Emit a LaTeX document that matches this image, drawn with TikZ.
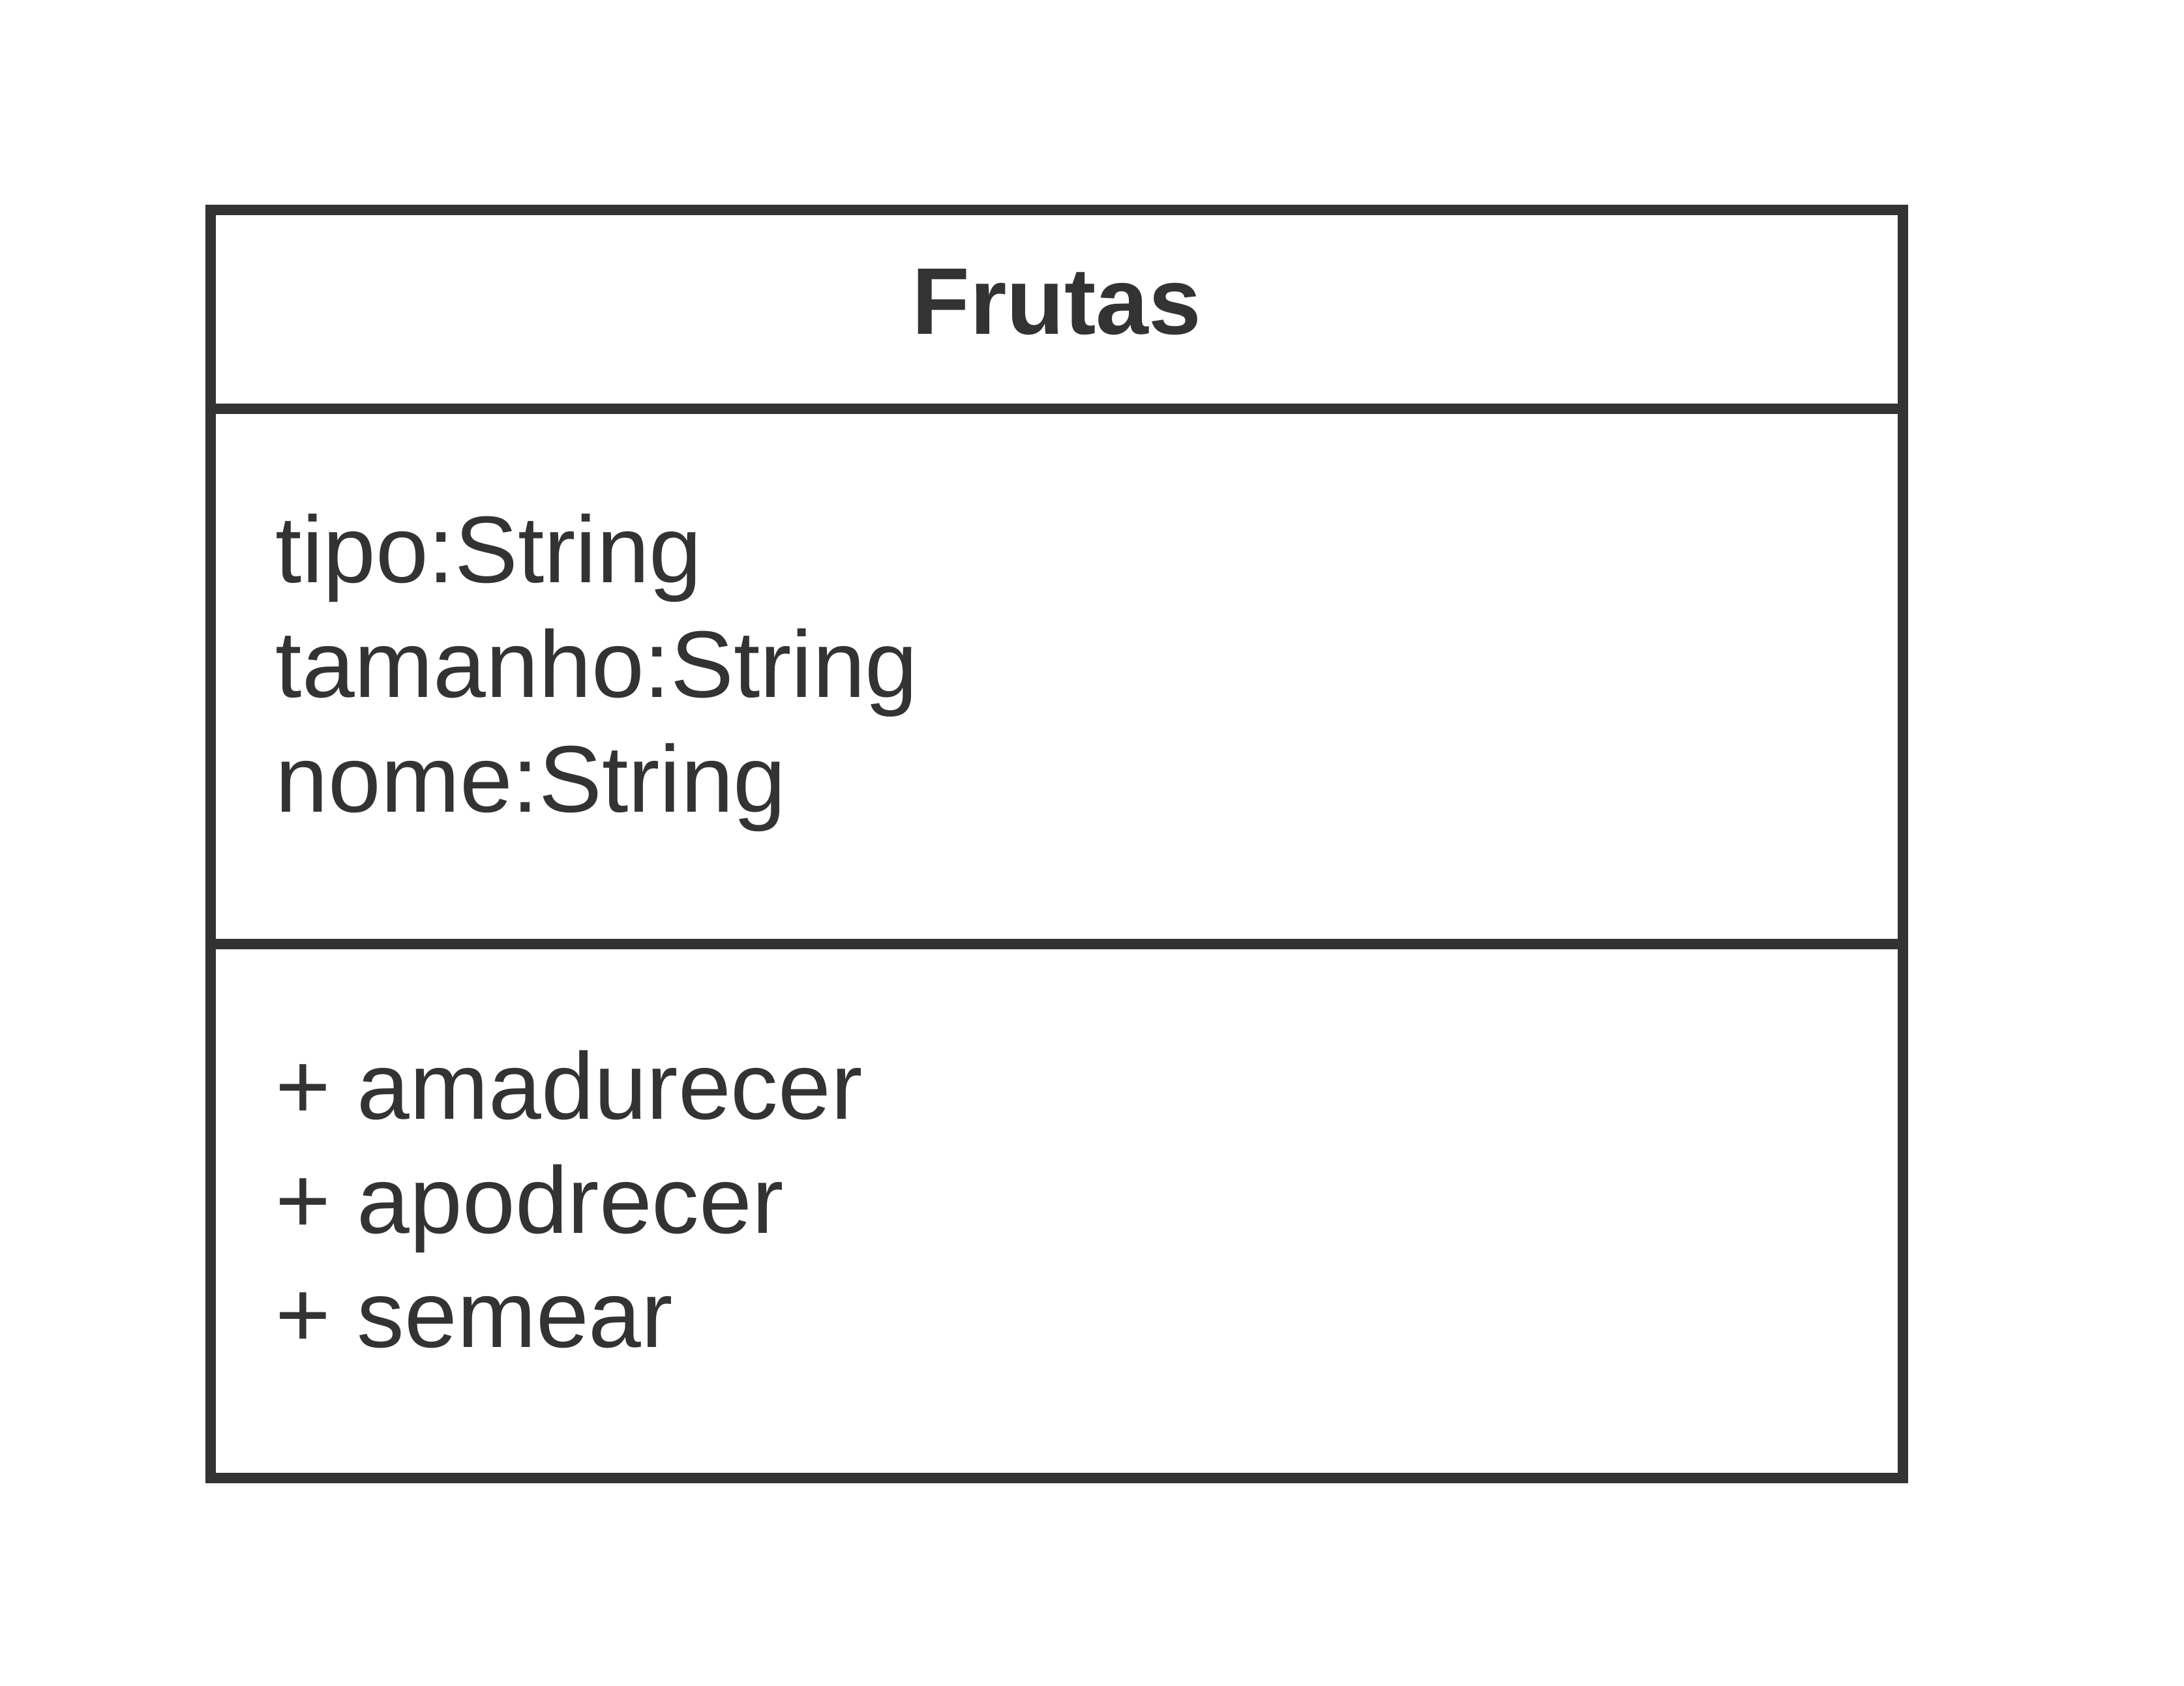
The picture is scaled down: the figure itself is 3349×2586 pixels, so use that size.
\documentclass[tikz,border=0pt]{standalone}
\usepackage{fontspec}
\setmainfont{Liberation Sans}
\definecolor{umlgray}{HTML}{333333}
\begin{document}
\begin{tikzpicture}[x=0.01cm,y=-0.01cm]
    \useasboundingbox (0,0) rectangle (3349,2586);
    \tikzstyle{compart}=[rectangle,draw=umlgray,line width=0.16cm,minimum width=25.93cm,inner sep=0pt]
    \tikzstyle{member}=[anchor=base west,inner sep=0pt,text=umlgray,font=\fontsize{41.3}{50}\selectfont]
    \tikzstyle{classname}=[anchor=base,inner sep=0pt,text=umlgray,font=\fontsize{41.3}{50}\selectfont\bfseries]
    \node[compart,minimum height=3.045cm] (Head) at (1620.5,474.75) {};
    \node[compart,minimum height=8.21cm] (Attrs) at (1620.5,1037.5) {};
    \node[compart,minimum height=8.19cm] (Ops) at (1620.5,1857.5) {};

    \node[classname] (Name) at (1620.5,513) {Frutas};
    \node[member] (A01) at (422,894) {tipo:String};
    \node[member] (A02) at (422,1069.5) {tamanho:String};
    \node[member] (A03) at (422,1245) {nome:String};
    \node[member] (M01) at (422,1716) {+ amadurecer};
    \node[member] (M02) at (422,1891) {+ apodrecer};
    \node[member] (M03) at (422,2066) {+ semear};
\end{tikzpicture}
\end{document}
